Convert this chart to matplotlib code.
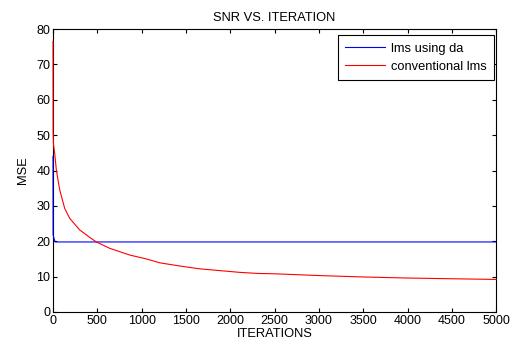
import matplotlib
matplotlib.use("Agg")
import matplotlib.pyplot as plt

plt.rcParams.update({
    "font.family": ["Liberation Sans", "DejaVu Sans"],
    "font.size": 9,
    "xtick.direction": "in",
    "ytick.direction": "in",
    "xtick.top": True,
    "ytick.right": True,
    "xtick.major.size": 3,
    "ytick.major.size": 3,
    "axes.linewidth": 0.8,
})

# MSE curves
lms_da_iter = [0, 1, 15, 25, 5000]
lms_da_mse = [44.0, 21.8, 20.5, 19.8, 19.8]

conv_iter = [0, 1, 5, 19, 38, 76, 132, 188, 301, 414, 490, 640, 866, 1054,
             1205, 1431, 1656, 1882, 2108, 2310, 2500, 3000, 3500, 4000,
             4500, 5000]
conv_mse = [76.5, 51.0, 47.5, 44.9, 40.1, 34.5, 29.3, 26.5, 23.2, 21.1, 19.8,
            18.0, 16.1, 15.0, 13.9, 13.0, 12.2, 11.7, 11.2, 10.9, 10.8, 10.3,
            9.9, 9.6, 9.4, 9.2]

fig = plt.figure(figsize=(5.12, 3.5), dpi=100)
ax = fig.add_axes([0.1035, 0.1086, 0.8655, 0.8085])

ax.plot(lms_da_iter, lms_da_mse, color="#0000ff", linewidth=0.8,
        label="lms using da", zorder=3, clip_on=False)
ax.plot(conv_iter, conv_mse, color="#ff0000", linewidth=0.8,
        label="conventional lms", zorder=3, clip_on=False)

ax.set_xlim(0, 5000)
ax.set_ylim(0, 80)
ax.set_xticks(range(0, 5001, 500))
ax.set_yticks(range(0, 81, 10))
ax.tick_params(labelsize=9, pad=2)

ax.set_title("SNR VS. ITERATION", fontsize=9.3, pad=6)
ax.set_xlabel("ITERATIONS", fontsize=9.3, labelpad=1)
ax.set_ylabel("MSE", fontsize=9.3, labelpad=5)

leg = ax.legend(loc="upper right", bbox_to_anchor=(0.9955, 0.979),
                borderaxespad=0, fontsize=9.3, fancybox=False,
                framealpha=1, edgecolor="black",
                handlelength=3.1, handletextpad=0.4, borderpad=0.6,
                labelspacing=0.45)
leg.get_frame().set_linewidth(0.8)
leg.set_zorder(5)

fig.savefig("out.png", dpi=100)
